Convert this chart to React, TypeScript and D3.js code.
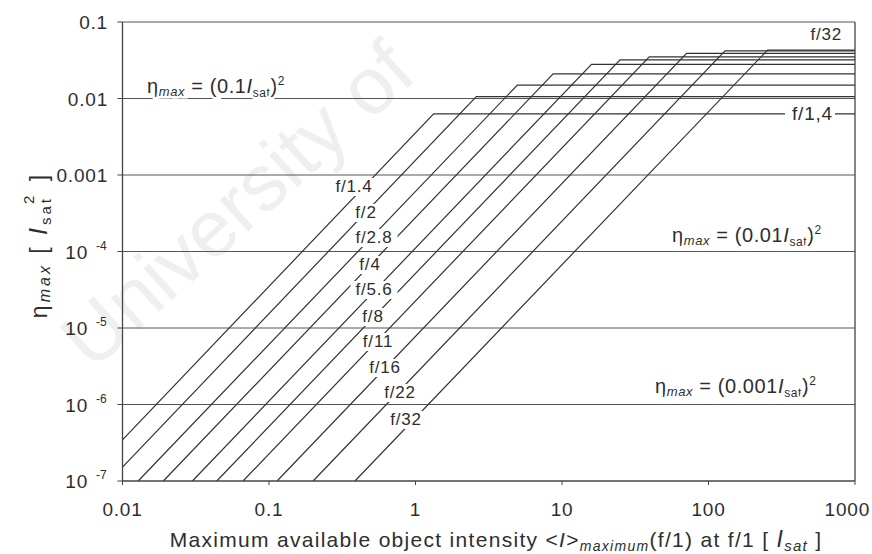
import React from "react";
import * as d3 from "d3";

// ---- data ----
const fStops = ["f/1.4", "f/2", "f/2.8", "f/4", "f/5.6", "f/8", "f/11", "f/16", "f/22", "f/32"];
// point where each ramp enters the plot
const startI = [0.01, 0.01, 0.0128, 0.019, 0.03, 0.044, 0.0665, 0.1135, 0.2, 0.386];
const startEta = [3.45e-7, 1.52e-7, 1e-7, 1e-7, 1e-7, 1e-7, 1e-7, 1e-7, 1e-7, 1e-7];
// knee (start of saturation) and plateau value
const kneeI = [1.33, 2.6, 4.96, 8.7, 15.9, 24.9, 39.4, 70.8, 129.6, 253];
const plateau = [0.0063, 0.0106, 0.015, 0.021, 0.028, 0.032, 0.035, 0.039, 0.042, 0.043];

const xTicks = [0.01, 0.1, 1, 10, 100, 1000];
const xTickLabels = ["0.01", "0.1", "1", "10", "100", "1000"];
const yTicks = [1e-7, 1e-6, 1e-5, 1e-4, 0.001, 0.01, 0.1];
const yTickBase = ["10", "10", "10", "10", "0.001", "0.01", "0.1"];
const yTickExp = ["-7", "-6", "-5", "-4", "", "", ""];

const W = 872;
const H = 554;
const font = "'Liberation Sans', Arial, sans-serif";
const ink = "#2e2e2e";

export default function App() {
  const x = d3.scaleLog().domain([0.01, 1000]).range([122.5, 855]);
  const y = d3.scaleLog().domain([1e-7, 0.1]).range([481, 22]);
  const line = d3
    .line<[number, number]>()
    .x((d) => x(d[0]))
    .y((d) => y(d[1]));

  // f-stop label spots (pixel centre, baseline)
  const labelPos: [number, number][] = [
    [354, 192], [366, 218], [374, 243], [370, 270], [374, 295],
    [373, 322], [378, 347], [385, 373], [400, 398], [406, 425],
  ];
  const halo = { stroke: "#fff", strokeWidth: 5, paintOrder: "stroke" as const };
  const bg = (cx: number, base: number, w: number) => (
    <rect x={cx - w / 2} y={base - 14} width={w} height={18} fill="#fff" />
  );

  return (
    <div style={{ position: "absolute", left: 0, top: 0 }}>
      <svg width={W} height={H} style={{ display: "block", background: "#fff" }} fontFamily={font}>
        {/* faint watermark */}
        <text transform="translate(92,372) rotate(-42)" fontSize={80} fill="#efefef">
          University of
        </text>

        {/* horizontal grid lines */}
        {yTicks.slice(1).map((t) => (
          <line key={t} x1={x(0.01)} x2={x(1000)} y1={y(t)} y2={y(t)} stroke="#555" strokeWidth={1} />
        ))}

        {/* ramps */}
        {fStops.map((f, i) => (
          <path
            key={f}
            d={line([
              [startI[i], startEta[i]],
              [kneeI[i], plateau[i]],
              [1000, plateau[i]],
            ]) || ""}
            fill="none"
            stroke="#333"
            strokeWidth={1.2}
          />
        ))}

        {/* axes frame */}
        <line x1={x(0.01)} x2={x(0.01)} y1={y(0.1)} y2={y(1e-7)} stroke="#444" strokeWidth={1.3} />
        <line x1={x(1000)} x2={x(1000)} y1={y(0.1)} y2={y(1e-7)} stroke="#444" strokeWidth={1.3} />
        <line x1={x(0.01)} x2={x(1000)} y1={y(1e-7)} y2={y(1e-7)} stroke="#444" strokeWidth={1.3} />

        {/* y ticks */}
        {yTicks.map((t, i) => (
          <g key={t}>
            <line x1={x(0.01) - 5} x2={x(0.01)} y1={y(t)} y2={y(t)} stroke="#444" />
            <text x={yTickExp[i] ? 88 : 108} y={y(t) + 7} textAnchor="end" fontSize={19} fill={ink} letterSpacing={0.8}>
              {yTickBase[i]}
            </text>
            {yTickExp[i] && (
              <text x={96} y={y(t) - 2} fontSize={12} fill={ink}>
                {yTickExp[i]}
              </text>
            )}
          </g>
        ))}

        {/* x ticks */}
        {xTicks.map((t, i) => (
          <g key={t}>
            <line x1={x(t)} x2={x(t)} y1={y(1e-7)} y2={y(1e-7) + 4} stroke="#444" />
            <text
              x={i === xTicks.length - 1 ? 870 : x(t)}
              y={516}
              textAnchor={i === xTicks.length - 1 ? "end" : "middle"}
              fontSize={19}
              fill={ink}
              letterSpacing={0.8}
            >
              {xTickLabels[i]}
            </text>
          </g>
        ))}

        {/* f-stop labels along the ramps */}
        {fStops.map((f, i) => (
          <g key={f}>
            {bg(labelPos[i][0], labelPos[i][1], f.length * 9 + 2)}
            <text
              x={labelPos[i][0]}
              y={labelPos[i][1]}
              textAnchor="middle"
              fontSize={17}
              fill={ink}
              letterSpacing={0.8}
            >
              {f}
            </text>
          </g>
        ))}
        {bg(822, 40, 42)}
        <text x={842} y={40} textAnchor="end" fontSize={17} fill={ink} letterSpacing={0.8}>
          f/32
        </text>
        {bg(810, 120, 50)}
        <text x={833} y={120} textAnchor="end" fontSize={19} fill={ink} letterSpacing={0.8}>
          f/1,4
        </text>

        {/* saturation annotations */}
        <text x={147} y={93} fontSize={20} fill={ink} letterSpacing={0.6} {...halo}>
          η<tspan fontSize={13} fontStyle="italic" dy={3}>max</tspan>
          <tspan dy={-3}> = (0.1</tspan>
          <tspan fontStyle="italic">I</tspan>
          <tspan fontSize={12} dy={4}>sat</tspan>
          <tspan dy={-4}>)</tspan>
          <tspan fontSize={12} dy={-8}>2</tspan>
        </text>
        <text x={672} y={242} fontSize={20} fill={ink} letterSpacing={0.6} {...halo}>
          η<tspan fontSize={13} fontStyle="italic" dy={3}>max</tspan>
          <tspan dy={-3}> = (0.01</tspan>
          <tspan fontStyle="italic">I</tspan>
          <tspan fontSize={12} dy={4}>sat</tspan>
          <tspan dy={-4}>)</tspan>
          <tspan fontSize={12} dy={-8}>2</tspan>
        </text>
        <text x={655} y={393} fontSize={20} fill={ink} letterSpacing={0.6} {...halo}>
          η<tspan fontSize={13} fontStyle="italic" dy={3}>max</tspan>
          <tspan dy={-3}> = (0.001</tspan>
          <tspan fontStyle="italic">I</tspan>
          <tspan fontSize={12} dy={4}>sat</tspan>
          <tspan dy={-4}>)</tspan>
          <tspan fontSize={12} dy={-8}>2</tspan>
        </text>

        {/* axis titles */}
        <text x={496} y={547} textAnchor="middle" fontSize={21} fill={ink} letterSpacing={1.3}>
          Maximum available object intensity &lt;
          <tspan fontStyle="italic">I</tspan>&gt;
          <tspan fontSize={14} fontStyle="italic" dy={4}>maximum</tspan>
          <tspan dy={-4}>(f/1) at f/1 [ </tspan>
          <tspan fontStyle="italic" fontSize={23}>I</tspan>
          <tspan fontSize={15} fontStyle="italic" dy={4}>sat</tspan>
          <tspan dy={-4}> ]</tspan>
        </text>
        <text transform="translate(47,245) rotate(-90)" textAnchor="middle" fontSize={23} fill={ink} letterSpacing={3}>
          η<tspan fontSize={16} fontStyle="italic" dy={3}>max</tspan>
          <tspan dy={-3}> [ </tspan>
          <tspan fontStyle="italic" fontSize={25}>I</tspan>
          <tspan fontSize={15} dy={4}>sat</tspan>
          <tspan fontSize={15} dy={-17} dx={-8}>2</tspan>
          <tspan dy={13} dx={2}> ]</tspan>
        </text>
      </svg>
    </div>
  );
}
